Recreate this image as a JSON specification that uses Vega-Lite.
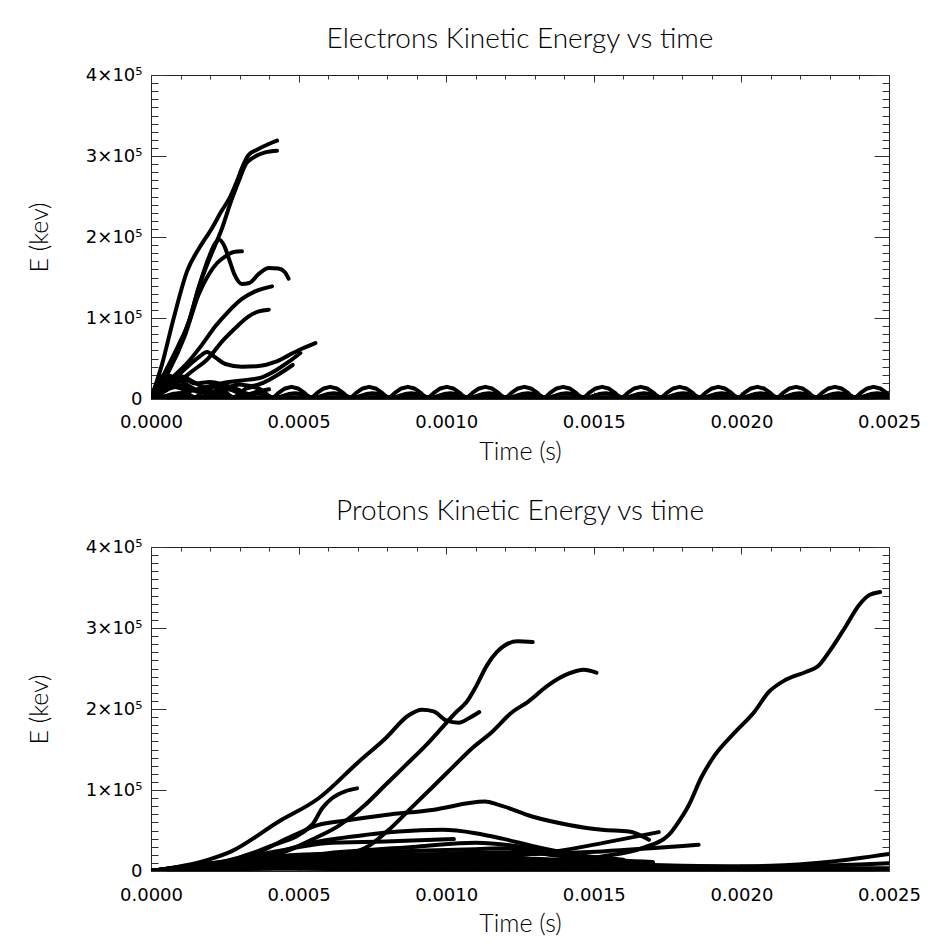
{
"$schema":"https://vega.github.io/schema/vega-lite/v6.json",
"background":"white",
"padding":{"left":26,"top":25,"right":10,"bottom":10},
"spacing":32,
"config":{
 "view":{"stroke":"#222","strokeWidth":1},
 "axis":{"labelFont":"DejaVu Sans","labelFontSize":18,"labelColor":"#000","titleFont":"Lato","titleFontWeight":300,"titleFontSize":25,"titleColor":"#000","tickColor":"#333","tickWidth":1,"grid":false,"domain":false,"labelOverlap":false},
 "title":{"font":"Lato","fontWeight":300,"fontSize":28,"color":"#000","offset":12,"anchor":"middle","frame":"group"}
},
"datasets":{
"electrons":[
{"id":"e1","t":0,"E":0},{"id":"e1","t":0.000037,"E":42400},{"id":"e1","t":0.000077,"E":100000},{"id":"e1","t":0.000122,"E":157600},{"id":"e1","t":0.000167,"E":188500},{"id":"e1","t":0.000207,"E":211100},{"id":"e1","t":0.000235,"E":229600},{"id":"e1","t":0.000269,"E":250200},{"id":"e1","t":0.000291,"E":268700},{"id":"e1","t":0.000308,"E":285200},{"id":"e1","t":0.000331,"E":301600},{"id":"e1","t":0.000359,"E":307800},{"id":"e1","t":0.000399,"E":314800},{"id":"e1","t":0.000427,"E":318900},
{"id":"e2","t":0,"E":0},{"id":"e2","t":0.000049,"E":34200},{"id":"e2","t":0.000094,"E":67100},{"id":"e2","t":0.000133,"E":100000},{"id":"e2","t":0.000161,"E":137000},{"id":"e2","t":0.00019,"E":165800},{"id":"e2","t":0.000218,"E":190500},{"id":"e2","t":0.000241,"E":211100},{"id":"e2","t":0.000269,"E":241900},{"id":"e2","t":0.000297,"E":268700},{"id":"e2","t":0.00032,"E":289300},{"id":"e2","t":0.000348,"E":298400},{"id":"e2","t":0.000387,"E":304500},{"id":"e2","t":0.000427,"E":306600},
{"id":"e3","t":0,"E":0},{"id":"e3","t":0.000049,"E":30000},{"id":"e3","t":0.000094,"E":63000},{"id":"e3","t":0.000128,"E":95800},{"id":"e3","t":0.000161,"E":137000},{"id":"e3","t":0.000195,"E":174100},{"id":"e3","t":0.000218,"E":192600},{"id":"e3","t":0.000231,"E":196700},{"id":"e3","t":0.000249,"E":188500},{"id":"e3","t":0.000265,"E":172000},{"id":"e3","t":0.000283,"E":153500},{"id":"e3","t":0.000308,"E":142000},{"id":"e3","t":0.000333,"E":143200},{"id":"e3","t":0.000365,"E":154400},{"id":"e3","t":0.000399,"E":161800},{"id":"e3","t":0.000432,"E":161000},{"id":"e3","t":0.000453,"E":156800},{"id":"e3","t":0.000466,"E":148600},
{"id":"e4","t":0,"E":0},{"id":"e4","t":0.00006,"E":34200},{"id":"e4","t":0.000116,"E":79400},{"id":"e4","t":0.000161,"E":128800},{"id":"e4","t":0.000195,"E":153500},{"id":"e4","t":0.000224,"E":167900},{"id":"e4","t":0.000252,"E":176100},{"id":"e4","t":0.00028,"E":181500},{"id":"e4","t":0.000308,"E":182300},
{"id":"e5","t":0,"E":0},{"id":"e5","t":0.000071,"E":25900},{"id":"e5","t":0.000128,"E":46500},{"id":"e5","t":0.000173,"E":67100},{"id":"e5","t":0.000218,"E":89700},{"id":"e5","t":0.000263,"E":108200},{"id":"e5","t":0.000308,"E":123500},{"id":"e5","t":0.000353,"E":132900},{"id":"e5","t":0.00041,"E":139100},
{"id":"e6","t":0,"E":0},{"id":"e6","t":0.000082,"E":17700},{"id":"e6","t":0.000139,"E":34200},{"id":"e6","t":0.000195,"E":50600},{"id":"e6","t":0.000241,"E":71200},{"id":"e6","t":0.000286,"E":87700},{"id":"e6","t":0.000331,"E":102100},{"id":"e6","t":0.000365,"E":108200},{"id":"e6","t":0.000399,"E":110300},
{"id":"e7","t":0,"E":0},{"id":"e7","t":0.00006,"E":17700},{"id":"e7","t":0.000116,"E":37400},{"id":"e7","t":0.000161,"E":51400},{"id":"e7","t":0.00019,"E":58000},{"id":"e7","t":0.000218,"E":51400},{"id":"e7","t":0.000252,"E":43200},{"id":"e7","t":0.000308,"E":39900},{"id":"e7","t":0.000365,"E":40700},{"id":"e7","t":0.000421,"E":45700},{"id":"e7","t":0.000466,"E":53900},{"id":"e7","t":0.000511,"E":62100},{"id":"e7","t":0.000557,"E":69100},
{"id":"e8","t":0,"E":0},{"id":"e8","t":0.000105,"E":7400},{"id":"e8","t":0.000195,"E":15600},{"id":"e8","t":0.000263,"E":21000},{"id":"e8","t":0.000331,"E":23900},{"id":"e8","t":0.000376,"E":26700},{"id":"e8","t":0.000421,"E":35000},{"id":"e8","t":0.000466,"E":45700},{"id":"e8","t":0.000506,"E":56800},
{"id":"e9","t":0,"E":0},{"id":"e9","t":0.00005,"E":12000},{"id":"e9","t":0.0001,"E":15000},{"id":"e9","t":0.00015,"E":11000},{"id":"e9","t":0.0002,"E":9000},{"id":"e9","t":0.00025,"E":13000},{"id":"e9","t":0.0003,"E":18000},{"id":"e9","t":0.00034,"E":16000},{"id":"e9","t":0.00038,"E":20000},{"id":"e9","t":0.00043,"E":30000},{"id":"e9","t":0.00048,"E":42000},
{"id":"e10","t":0,"E":0},{"id":"e10","t":0.00003,"E":15000},{"id":"e10","t":0.00006,"E":25000},{"id":"e10","t":0.0001,"E":28000},{"id":"e10","t":0.00014,"E":22000},{"id":"e10","t":0.00018,"E":14000},{"id":"e10","t":0.00022,"E":8000},{"id":"e10","t":0.00026,"E":12000},{"id":"e10","t":0.0003,"E":9000},{"id":"e10","t":0.00035,"E":4000},
{"id":"e11","t":0,"E":0},{"id":"e11","t":0.00004,"E":10000},{"id":"e11","t":0.00008,"E":18000},{"id":"e11","t":0.00012,"E":15000},{"id":"e11","t":0.00016,"E":9000},{"id":"e11","t":0.0002,"E":14000},{"id":"e11","t":0.00024,"E":16000},{"id":"e11","t":0.00028,"E":10000},{"id":"e11","t":0.00032,"E":5000},{"id":"e11","t":0.00036,"E":9000},{"id":"e11","t":0.0004,"E":12000},
{"id":"e13","t":0,"E":0},{"id":"e13","t":0.00002,"E":20000},{"id":"e13","t":0.00005,"E":30000},{"id":"e13","t":0.00008,"E":26000},{"id":"e13","t":0.00012,"E":18000},{"id":"e13","t":0.00016,"E":10000},{"id":"e13","t":0.0002,"E":5000},{"id":"e13","t":0.00025,"E":2000},
{"id":"e14","t":0,"E":0},{"id":"e14","t":0.00003,"E":8000},{"id":"e14","t":0.00007,"E":20000},{"id":"e14","t":0.00011,"E":24000},{"id":"e14","t":0.00015,"E":19000},{"id":"e14","t":0.0002,"E":21000},{"id":"e14","t":0.00025,"E":17000},{"id":"e14","t":0.0003,"E":11000}
],
"electronArches":[
{"id":"a1","t":0.000015,"E":0},{"id":"a1","t":0.000037,"E":7500},{"id":"a1","t":0.000059,"E":13000},{"id":"a1","t":0.000081,"E":15000},{"id":"a1","t":0.000103,"E":13000},{"id":"a1","t":0.000125,"E":7500},
{"id":"a1","t":0.000147,"E":0},{"id":"a1","t":0.000169,"E":7500},{"id":"a1","t":0.000191,"E":13000},{"id":"a1","t":0.000213,"E":15000},{"id":"a1","t":0.000235,"E":13000},{"id":"a1","t":0.000257,"E":7500},
{"id":"a1","t":0.000278,"E":0},{"id":"a1","t":0.0003,"E":7500},{"id":"a1","t":0.000322,"E":13000},{"id":"a1","t":0.000344,"E":15000},{"id":"a1","t":0.000366,"E":13000},{"id":"a1","t":0.000388,"E":7500},
{"id":"a1","t":0.00041,"E":0},{"id":"a1","t":0.000432,"E":7500},{"id":"a1","t":0.000454,"E":13000},{"id":"a1","t":0.000476,"E":15000},{"id":"a1","t":0.000498,"E":13000},{"id":"a1","t":0.00052,"E":7500},
{"id":"a1","t":0.000541,"E":0},{"id":"a1","t":0.000563,"E":7500},{"id":"a1","t":0.000585,"E":13000},{"id":"a1","t":0.000607,"E":15000},{"id":"a1","t":0.000629,"E":13000},{"id":"a1","t":0.000651,"E":7500},
{"id":"a1","t":0.000673,"E":0},{"id":"a1","t":0.000695,"E":7500},{"id":"a1","t":0.000717,"E":13000},{"id":"a1","t":0.000739,"E":15000},{"id":"a1","t":0.000761,"E":13000},{"id":"a1","t":0.000783,"E":7500},
{"id":"a1","t":0.000804,"E":0},{"id":"a1","t":0.000826,"E":7500},{"id":"a1","t":0.000848,"E":13000},{"id":"a1","t":0.00087,"E":15000},{"id":"a1","t":0.000892,"E":13000},{"id":"a1","t":0.000914,"E":7500},
{"id":"a1","t":0.000936,"E":0},{"id":"a1","t":0.000958,"E":7500},{"id":"a1","t":0.00098,"E":13000},{"id":"a1","t":0.001002,"E":15000},{"id":"a1","t":0.001024,"E":13000},{"id":"a1","t":0.001046,"E":7500},
{"id":"a1","t":0.001067,"E":0},{"id":"a1","t":0.001089,"E":7500},{"id":"a1","t":0.001111,"E":13000},{"id":"a1","t":0.001133,"E":15000},{"id":"a1","t":0.001155,"E":13000},{"id":"a1","t":0.001177,"E":7500},
{"id":"a1","t":0.001199,"E":0},{"id":"a1","t":0.001221,"E":7500},{"id":"a1","t":0.001243,"E":13000},{"id":"a1","t":0.001265,"E":15000},{"id":"a1","t":0.001287,"E":13000},{"id":"a1","t":0.001309,"E":7500},
{"id":"a1","t":0.00133,"E":0},{"id":"a1","t":0.001352,"E":7500},{"id":"a1","t":0.001374,"E":13000},{"id":"a1","t":0.001396,"E":15000},{"id":"a1","t":0.001418,"E":13000},{"id":"a1","t":0.00144,"E":7500},
{"id":"a1","t":0.001462,"E":0},{"id":"a1","t":0.001484,"E":7500},{"id":"a1","t":0.001506,"E":13000},{"id":"a1","t":0.001528,"E":15000},{"id":"a1","t":0.00155,"E":13000},{"id":"a1","t":0.001572,"E":7500},
{"id":"a1","t":0.001593,"E":0},{"id":"a1","t":0.001615,"E":7500},{"id":"a1","t":0.001637,"E":13000},{"id":"a1","t":0.001659,"E":15000},{"id":"a1","t":0.001681,"E":13000},{"id":"a1","t":0.001703,"E":7500},
{"id":"a1","t":0.001725,"E":0},{"id":"a1","t":0.001747,"E":7500},{"id":"a1","t":0.001769,"E":13000},{"id":"a1","t":0.001791,"E":15000},{"id":"a1","t":0.001813,"E":13000},{"id":"a1","t":0.001835,"E":7500},
{"id":"a1","t":0.001856,"E":0},{"id":"a1","t":0.001878,"E":7500},{"id":"a1","t":0.0019,"E":13000},{"id":"a1","t":0.001922,"E":15000},{"id":"a1","t":0.001944,"E":13000},{"id":"a1","t":0.001966,"E":7500},
{"id":"a1","t":0.001988,"E":0},{"id":"a1","t":0.00201,"E":7500},{"id":"a1","t":0.002032,"E":13000},{"id":"a1","t":0.002054,"E":15000},{"id":"a1","t":0.002076,"E":13000},{"id":"a1","t":0.002098,"E":7500},
{"id":"a1","t":0.002119,"E":0},{"id":"a1","t":0.002141,"E":7500},{"id":"a1","t":0.002163,"E":13000},{"id":"a1","t":0.002185,"E":15000},{"id":"a1","t":0.002207,"E":13000},{"id":"a1","t":0.002229,"E":7500},
{"id":"a1","t":0.002251,"E":0},{"id":"a1","t":0.002273,"E":7500},{"id":"a1","t":0.002295,"E":13000},{"id":"a1","t":0.002317,"E":15000},{"id":"a1","t":0.002339,"E":13000},{"id":"a1","t":0.002361,"E":7500},
{"id":"a1","t":0.002382,"E":0},{"id":"a1","t":0.002404,"E":7500},{"id":"a1","t":0.002426,"E":13000},{"id":"a1","t":0.002448,"E":15000},{"id":"a1","t":0.00247,"E":13000},{"id":"a1","t":0.002492,"E":7500},{"id":"a1","t":0.0025,"E":4800},
{"id":"a2","t":0.000027,"E":0},{"id":"a2","t":0.000049,"E":3500},{"id":"a2","t":0.000071,"E":6100},{"id":"a2","t":0.000093,"E":7000},{"id":"a2","t":0.000115,"E":6100},{"id":"a2","t":0.000137,"E":3500},
{"id":"a2","t":0.000159,"E":0},{"id":"a2","t":0.000181,"E":3500},{"id":"a2","t":0.000203,"E":6100},{"id":"a2","t":0.000225,"E":7000},{"id":"a2","t":0.000247,"E":6100},{"id":"a2","t":0.000269,"E":3500},
{"id":"a2","t":0.00029,"E":0},{"id":"a2","t":0.000312,"E":3500},{"id":"a2","t":0.000334,"E":6100},{"id":"a2","t":0.000356,"E":7000},{"id":"a2","t":0.000378,"E":6100},{"id":"a2","t":0.0004,"E":3500},
{"id":"a2","t":0.000422,"E":0},{"id":"a2","t":0.000444,"E":3500},{"id":"a2","t":0.000466,"E":6100},{"id":"a2","t":0.000488,"E":7000},{"id":"a2","t":0.00051,"E":6100},{"id":"a2","t":0.000532,"E":3500},
{"id":"a2","t":0.000553,"E":0},{"id":"a2","t":0.000575,"E":3500},{"id":"a2","t":0.000597,"E":6100},{"id":"a2","t":0.000619,"E":7000},{"id":"a2","t":0.000641,"E":6100},{"id":"a2","t":0.000663,"E":3500},
{"id":"a2","t":0.000685,"E":0},{"id":"a2","t":0.000707,"E":3500},{"id":"a2","t":0.000729,"E":6100},{"id":"a2","t":0.000751,"E":7000},{"id":"a2","t":0.000773,"E":6100},{"id":"a2","t":0.000795,"E":3500},
{"id":"a2","t":0.000816,"E":0},{"id":"a2","t":0.000838,"E":3500},{"id":"a2","t":0.00086,"E":6100},{"id":"a2","t":0.000882,"E":7000},{"id":"a2","t":0.000904,"E":6100},{"id":"a2","t":0.000926,"E":3500},
{"id":"a2","t":0.000948,"E":0},{"id":"a2","t":0.00097,"E":3500},{"id":"a2","t":0.000992,"E":6100},{"id":"a2","t":0.001014,"E":7000},{"id":"a2","t":0.001036,"E":6100},{"id":"a2","t":0.001058,"E":3500},
{"id":"a2","t":0.001079,"E":0},{"id":"a2","t":0.001101,"E":3500},{"id":"a2","t":0.001123,"E":6100},{"id":"a2","t":0.001145,"E":7000},{"id":"a2","t":0.001167,"E":6100},{"id":"a2","t":0.001189,"E":3500},
{"id":"a2","t":0.001211,"E":0},{"id":"a2","t":0.001233,"E":3500},{"id":"a2","t":0.001255,"E":6100},{"id":"a2","t":0.001277,"E":7000},{"id":"a2","t":0.001299,"E":6100},{"id":"a2","t":0.001321,"E":3500},
{"id":"a2","t":0.001342,"E":0},{"id":"a2","t":0.001364,"E":3500},{"id":"a2","t":0.001386,"E":6100},{"id":"a2","t":0.001408,"E":7000},{"id":"a2","t":0.00143,"E":6100},{"id":"a2","t":0.001452,"E":3500},
{"id":"a2","t":0.001474,"E":0},{"id":"a2","t":0.001496,"E":3500},{"id":"a2","t":0.001518,"E":6100},{"id":"a2","t":0.00154,"E":7000},{"id":"a2","t":0.001562,"E":6100},{"id":"a2","t":0.001584,"E":3500},
{"id":"a2","t":0.001605,"E":0},{"id":"a2","t":0.001627,"E":3500},{"id":"a2","t":0.001649,"E":6100},{"id":"a2","t":0.001671,"E":7000},{"id":"a2","t":0.001693,"E":6100},{"id":"a2","t":0.001715,"E":3500},
{"id":"a2","t":0.001737,"E":0},{"id":"a2","t":0.001759,"E":3500},{"id":"a2","t":0.001781,"E":6100},{"id":"a2","t":0.001803,"E":7000},{"id":"a2","t":0.001825,"E":6100},{"id":"a2","t":0.001847,"E":3500},
{"id":"a2","t":0.001868,"E":0},{"id":"a2","t":0.00189,"E":3500},{"id":"a2","t":0.001912,"E":6100},{"id":"a2","t":0.001934,"E":7000},{"id":"a2","t":0.001956,"E":6100},{"id":"a2","t":0.001978,"E":3500},
{"id":"a2","t":0.002,"E":0},{"id":"a2","t":0.002022,"E":3500},{"id":"a2","t":0.002044,"E":6100},{"id":"a2","t":0.002066,"E":7000},{"id":"a2","t":0.002088,"E":6100},{"id":"a2","t":0.00211,"E":3500},
{"id":"a2","t":0.002131,"E":0},{"id":"a2","t":0.002153,"E":3500},{"id":"a2","t":0.002175,"E":6100},{"id":"a2","t":0.002197,"E":7000},{"id":"a2","t":0.002219,"E":6100},{"id":"a2","t":0.002241,"E":3500},
{"id":"a2","t":0.002263,"E":0},{"id":"a2","t":0.002285,"E":3500},{"id":"a2","t":0.002307,"E":6100},{"id":"a2","t":0.002329,"E":7000},{"id":"a2","t":0.002351,"E":6100},{"id":"a2","t":0.002373,"E":3500},
{"id":"a2","t":0.002394,"E":0},{"id":"a2","t":0.002416,"E":3500},{"id":"a2","t":0.002438,"E":6100},{"id":"a2","t":0.00246,"E":7000},{"id":"a2","t":0.002482,"E":6100},{"id":"a2","t":0.0025,"E":4000},
{"id":"b1","t":0,"E":2500},{"id":"b1","t":0.0005,"E":2200},{"id":"b1","t":0.001,"E":2600},{"id":"b1","t":0.0015,"E":2300},{"id":"b1","t":0.002,"E":2600},{"id":"b1","t":0.0025,"E":2400}
],
"protons":[
{"id":"p1","t":0,"E":0},{"id":"p1","t":0.0004,"E":3000},{"id":"p1","t":0.0008,"E":5000},{"id":"p1","t":0.0012,"E":8000},{"id":"p1","t":0.0014,"E":12000},{"id":"p1","t":0.001528,"E":18000},{"id":"p1","t":0.001664,"E":28300},{"id":"p1","t":0.001754,"E":44600},{"id":"p1","t":0.001788,"E":61100},{"id":"p1","t":0.00182,"E":80000},{"id":"p1","t":0.001865,"E":116000},{"id":"p1","t":0.00191,"E":143000},{"id":"p1","t":0.00198,"E":172000},{"id":"p1","t":0.002045,"E":197000},{"id":"p1","t":0.00209,"E":220000},{"id":"p1","t":0.00215,"E":236000},{"id":"p1","t":0.00222,"E":246000},{"id":"p1","t":0.00226,"E":253000},{"id":"p1","t":0.0023,"E":272000},{"id":"p1","t":0.00235,"E":300000},{"id":"p1","t":0.0024,"E":329000},{"id":"p1","t":0.00243,"E":340000},{"id":"p1","t":0.00247,"E":344500},
{"id":"p2","t":0,"E":0},{"id":"p2","t":0.000224,"E":7000},{"id":"p2","t":0.000362,"E":15200},{"id":"p2","t":0.000466,"E":25500},{"id":"p2","t":0.000552,"E":39900},{"id":"p2","t":0.000638,"E":56400},{"id":"p2","t":0.000724,"E":81100},{"id":"p2","t":0.000793,"E":105800},{"id":"p2","t":0.000862,"E":130400},{"id":"p2","t":0.000931,"E":155100},{"id":"p2","t":0.000983,"E":175700},{"id":"p2","t":0.001034,"E":196300},{"id":"p2","t":0.001069,"E":208600},{"id":"p2","t":0.001103,"E":229200},{"id":"p2","t":0.001138,"E":253900},{"id":"p2","t":0.001172,"E":270400},{"id":"p2","t":0.001241,"E":283500},{"id":"p2","t":0.001293,"E":282700},
{"id":"p3","t":0,"E":0},{"id":"p3","t":0.000224,"E":4100},{"id":"p3","t":0.000483,"E":9100},{"id":"p3","t":0.000655,"E":19300},{"id":"p3","t":0.000741,"E":31700},{"id":"p3","t":0.00081,"E":52300},{"id":"p3","t":0.000879,"E":77000},{"id":"p3","t":0.000948,"E":101600},{"id":"p3","t":0.001017,"E":126300},{"id":"p3","t":0.001086,"E":151000},{"id":"p3","t":0.001155,"E":171600},{"id":"p3","t":0.001224,"E":196300},{"id":"p3","t":0.001276,"E":208600},{"id":"p3","t":0.001345,"E":229200},{"id":"p3","t":0.001414,"E":243600},{"id":"p3","t":0.001466,"E":248500},{"id":"p3","t":0.001509,"E":244800},
{"id":"p4","t":0,"E":0},{"id":"p4","t":0.000195,"E":14000},{"id":"p4","t":0.000274,"E":24600},{"id":"p4","t":0.000433,"E":61100},{"id":"p4","t":0.000568,"E":89800},{"id":"p4","t":0.000704,"E":135000},{"id":"p4","t":0.000794,"E":163600},{"id":"p4","t":0.000873,"E":192300},{"id":"p4","t":0.000918,"E":199000},{"id":"p4","t":0.000957,"E":197100},{"id":"p4","t":0.001,"E":186000},{"id":"p4","t":0.001043,"E":183100},{"id":"p4","t":0.001078,"E":188900},{"id":"p4","t":0.001112,"E":196300},
{"id":"p5","t":0,"E":0},{"id":"p5","t":0.00022,"E":9000},{"id":"p5","t":0.0004,"E":30000},{"id":"p5","t":0.000545,"E":56800},{"id":"p5","t":0.00058,"E":77500},{"id":"p5","t":0.000613,"E":89800},{"id":"p5","t":0.000658,"E":98400},{"id":"p5","t":0.000698,"E":102000},
{"id":"p6","t":0,"E":0},{"id":"p6","t":0.00031,"E":15200},{"id":"p6","t":0.000483,"E":44000},{"id":"p6","t":0.000568,"E":56900},{"id":"p6","t":0.000655,"E":62000},{"id":"p6","t":0.000794,"E":69200},{"id":"p6","t":0.000952,"E":75400},{"id":"p6","t":0.001131,"E":85700},{"id":"p6","t":0.001178,"E":81600},{"id":"p6","t":0.001291,"E":67300},{"id":"p6","t":0.001416,"E":56900},{"id":"p6","t":0.001528,"E":50800},{"id":"p6","t":0.001619,"E":48800},{"id":"p6","t":0.001687,"E":38500},
{"id":"p7","t":0,"E":0},{"id":"p7","t":0.00031,"E":12000},{"id":"p7","t":0.000568,"E":36500},{"id":"p7","t":0.000726,"E":44600},{"id":"p7","t":0.000839,"E":48800},{"id":"p7","t":0.000986,"E":50800},{"id":"p7","t":0.001099,"E":46700},{"id":"p7","t":0.00119,"E":40000},{"id":"p7","t":0.001291,"E":31000},{"id":"p7","t":0.00138,"E":24000},{"id":"p7","t":0.00146,"E":19000},{"id":"p7","t":0.00155,"E":15000},
{"id":"p8","t":0,"E":0},{"id":"p8","t":0.00025,"E":12000},{"id":"p8","t":0.00045,"E":26000},{"id":"p8","t":0.00059,"E":34400},{"id":"p8","t":0.000794,"E":36500},{"id":"p8","t":0.001026,"E":39400},
{"id":"p9","t":0,"E":0},{"id":"p9","t":0.0003,"E":8000},{"id":"p9","t":0.0006,"E":12000},{"id":"p9","t":0.0009,"E":16000},{"id":"p9","t":0.001189,"E":20000},{"id":"p9","t":0.001528,"E":24200},{"id":"p9","t":0.001855,"E":32300},
{"id":"p10","t":0,"E":0},{"id":"p10","t":0.0003,"E":9000},{"id":"p10","t":0.0007,"E":12000},{"id":"p10","t":0.001,"E":15000},{"id":"p10","t":0.00118,"E":18000},{"id":"p10","t":0.00137,"E":24200},{"id":"p10","t":0.001528,"E":34400},{"id":"p10","t":0.00172,"E":48000},
{"id":"p11","t":0,"E":0},{"id":"p11","t":0.0003,"E":10000},{"id":"p11","t":0.0006,"E":22000},{"id":"p11","t":0.0009,"E":30000},{"id":"p11","t":0.0011,"E":35000},{"id":"p11","t":0.00125,"E":30000},{"id":"p11","t":0.0014,"E":18000},{"id":"p11","t":0.00155,"E":12000},{"id":"p11","t":0.0017,"E":9000},
{"id":"p12","t":0,"E":0},{"id":"p12","t":0.0005,"E":4000},{"id":"p12","t":0.001,"E":5000},{"id":"p12","t":0.0015,"E":4500},{"id":"p12","t":0.0019,"E":5500},{"id":"p12","t":0.0021,"E":6500},{"id":"p12","t":0.0023,"E":11500},{"id":"p12","t":0.0025,"E":21000},
{"id":"q1","t":0,"E":0},{"id":"q1","t":0.00023,"E":9000},{"id":"q1","t":0.0005,"E":11000},{"id":"q1","t":0.0008,"E":10000},{"id":"q1","t":0.0011,"E":9000},{"id":"q1","t":0.0014,"E":7000},{"id":"q1","t":0.0017,"E":4000},{"id":"q1","t":0.002,"E":2500},{"id":"q1","t":0.0025,"E":2500},
{"id":"q2","t":0,"E":0},{"id":"q2","t":0.00023,"E":8000},{"id":"q2","t":0.0005,"E":6000},{"id":"q2","t":0.0008,"E":5000},{"id":"q2","t":0.0012,"E":4000},{"id":"q2","t":0.0016,"E":2500},{"id":"q2","t":0.002,"E":1500},{"id":"q2","t":0.0025,"E":1500},
{"id":"q3","t":0,"E":0},{"id":"q3","t":0.00025,"E":7000},{"id":"q3","t":0.0004,"E":3000},{"id":"q3","t":0.0008,"E":2000},{"id":"q3","t":0.0015,"E":1500},{"id":"q3","t":0.0025,"E":800},
{"id":"q4","t":0,"E":0},{"id":"q4","t":0.0003,"E":12000},{"id":"q4","t":0.0006,"E":14000},{"id":"q4","t":0.0009,"E":13000},{"id":"q4","t":0.0012,"E":11000},{"id":"q4","t":0.0015,"E":8000},{"id":"q4","t":0.0018,"E":5000},{"id":"q4","t":0.0021,"E":3500},{"id":"q4","t":0.0025,"E":3500},
{"id":"q5","t":0,"E":0},{"id":"q5","t":0.0003,"E":10000},{"id":"q5","t":0.0008,"E":16000},{"id":"q5","t":0.0012,"E":15000},{"id":"q5","t":0.0014,"E":13000},{"id":"q5","t":0.0016,"E":9000},{"id":"q5","t":0.0018,"E":6500},{"id":"q5","t":0.002,"E":5500},{"id":"q5","t":0.0022,"E":6000},{"id":"q5","t":0.0024,"E":8000},{"id":"q5","t":0.0025,"E":9500},
{"id":"q6","t":0,"E":0},{"id":"q6","t":0.00025,"E":10000},{"id":"q6","t":0.0005,"E":20000},{"id":"q6","t":0.0007,"E":22000},{"id":"q6","t":0.0009,"E":25000},{"id":"q6","t":0.0011,"E":27000},{"id":"q6","t":0.0012,"E":28000},{"id":"q6","t":0.00135,"E":20000},{"id":"q6","t":0.0015,"E":15000},{"id":"q6","t":0.0017,"E":11000},
{"id":"q7","t":0,"E":0},{"id":"q7","t":0.00025,"E":11000},{"id":"q7","t":0.0005,"E":18000},{"id":"q7","t":0.0008,"E":21000},{"id":"q7","t":0.0011,"E":19000},{"id":"q7","t":0.0013,"E":15000},{"id":"q7","t":0.0015,"E":12000},{"id":"q7","t":0.0017,"E":10000},
{"id":"q8","t":0,"E":0},{"id":"q8","t":0.00022,"E":9500},{"id":"q8","t":0.0004,"E":15000},{"id":"q8","t":0.0007,"E":17000},{"id":"q8","t":0.001,"E":14000},{"id":"q8","t":0.0013,"E":10000},{"id":"q8","t":0.0016,"E":6000},{"id":"q8","t":0.0019,"E":4000},
{"id":"q9","t":0,"E":0},{"id":"q9","t":0.0002,"E":8000},{"id":"q9","t":0.0005,"E":13000},{"id":"q9","t":0.0009,"E":20000},{"id":"q9","t":0.0012,"E":23000},{"id":"q9","t":0.0014,"E":20000},{"id":"q9","t":0.0016,"E":14000},
{"id":"q10","t":0,"E":0},{"id":"q10","t":0.0003,"E":6000},{"id":"q10","t":0.0006,"E":9000},{"id":"q10","t":0.001,"E":7000},{"id":"q10","t":0.0014,"E":5000},{"id":"q10","t":0.0018,"E":3000},{"id":"q10","t":0.0025,"E":2000}
]
},
"vconcat":[
{
 "width":738,"height":324,
 "title":{"text":"Electrons Kinetic Energy vs time"},
 "data":{"name":"electrons"},
 "resolve":{"axis":{"x":"independent","y":"independent"}},
 "layer":[
  {"mark":{"type":"line","interpolate":"monotone","color":"#000","strokeWidth":4,"strokeCap":"round","strokeJoin":"round","clip":true},
   "encoding":{
    "x":{"field":"t","type":"quantitative","scale":{"domain":[0,0.0025],"nice":false,"zero":false},"axis":{"orient":"bottom","values":[0,0.0005,0.001,0.0015,0.002,0.0025],"format":".4f","ticks":false,"labelFlush":false,"labelPadding":14,"title":"Time (s)","titlePadding":8}},
    "y":{"field":"E","type":"quantitative","scale":{"domain":[0,400000],"nice":false},"axis":{"orient":"left","values":[0,100000,200000,300000,400000],"labelExpr":"datum.value === 0 ? '0' : format(datum.value/100000,'d') + '×10⁵'","ticks":false,"labelPadding":9,"title":"E (kev)","titlePadding":33}},
    "detail":{"field":"id"}}},
  {"data":{"name":"electronArches"},
   "mark":{"type":"line","interpolate":"linear","color":"#000","strokeWidth":4,"strokeCap":"round","strokeJoin":"round","clip":true},
   "encoding":{
    "x":{"field":"t","type":"quantitative","scale":{"domain":[0,0.0025],"nice":false,"zero":false},"axis":null},
    "y":{"field":"E","type":"quantitative","scale":{"domain":[0,400000],"nice":false},"axis":null},
    "detail":{"field":"id"}}},
  {"mark":{"type":"point","opacity":0},
   "encoding":{
    "x":{"field":"t","type":"quantitative","axis":{"orient":"bottom","values":[0,0.0005,0.001,0.0015,0.002,0.0025],"labels":false,"tickSize":-7,"title":null}},
    "y":{"field":"E","type":"quantitative","axis":{"orient":"left","values":[0,100000,200000,300000,400000],"labels":false,"tickSize":-15,"title":null}}}},
  {"mark":{"type":"point","opacity":0},
   "encoding":{
    "x":{"field":"t","type":"quantitative","axis":{"orient":"bottom","values":[0,0.0001,0.0002,0.0003,0.0004,0.0005,0.0006,0.0007,0.0008,0.0009,0.001,0.0011,0.0012,0.0013,0.0014,0.0015,0.0016,0.0017,0.0018,0.0019,0.002,0.0021,0.0022,0.0023,0.0024,0.0025],"labels":false,"tickSize":-4,"title":null}},
    "y":{"field":"E","type":"quantitative","axis":{"orient":"left","values":[0,10000,20000,30000,40000,50000,60000,70000,80000,90000,100000,110000,120000,130000,140000,150000,160000,170000,180000,190000,200000,210000,220000,230000,240000,250000,260000,270000,280000,290000,300000,310000,320000,330000,340000,350000,360000,370000,380000,390000,400000],"labels":false,"tickSize":-7,"title":null}}}},
  {"mark":{"type":"point","opacity":0},
   "encoding":{
    "x":{"field":"t","type":"quantitative","axis":{"orient":"top","values":[0,0.0005,0.001,0.0015,0.002,0.0025],"labels":false,"tickSize":-7,"title":null}},
    "y":{"field":"E","type":"quantitative","axis":{"orient":"right","values":[0,100000,200000,300000,400000],"labels":false,"tickSize":-15,"title":null}}}},
  {"mark":{"type":"point","opacity":0},
   "encoding":{
    "x":{"field":"t","type":"quantitative","axis":{"orient":"top","values":[0,0.0001,0.0002,0.0003,0.0004,0.0005,0.0006,0.0007,0.0008,0.0009,0.001,0.0011,0.0012,0.0013,0.0014,0.0015,0.0016,0.0017,0.0018,0.0019,0.002,0.0021,0.0022,0.0023,0.0024,0.0025],"labels":false,"tickSize":-4,"title":null}},
    "y":{"field":"E","type":"quantitative","axis":{"orient":"right","values":[0,10000,20000,30000,40000,50000,60000,70000,80000,90000,100000,110000,120000,130000,140000,150000,160000,170000,180000,190000,200000,210000,220000,230000,240000,250000,260000,270000,280000,290000,300000,310000,320000,330000,340000,350000,360000,370000,380000,390000,400000],"labels":false,"tickSize":-7,"title":null}}}}
 ]
},
{
 "width":738,"height":324,
 "title":{"text":"Protons Kinetic Energy vs time"},
 "data":{"name":"protons"},
 "resolve":{"axis":{"x":"independent","y":"independent"}},
 "layer":[
  {"mark":{"type":"line","interpolate":"monotone","color":"#000","strokeWidth":4,"strokeCap":"round","strokeJoin":"round","clip":true},
   "encoding":{
    "x":{"field":"t","type":"quantitative","scale":{"domain":[0,0.0025],"nice":false,"zero":false},"axis":{"orient":"bottom","values":[0,0.0005,0.001,0.0015,0.002,0.0025],"format":".4f","ticks":false,"labelFlush":false,"labelPadding":15,"title":"Time (s)","titlePadding":7}},
    "y":{"field":"E","type":"quantitative","scale":{"domain":[0,400000],"nice":false},"axis":{"orient":"left","values":[0,100000,200000,300000,400000],"labelExpr":"datum.value === 0 ? '0' : format(datum.value/100000,'d') + '×10⁵'","ticks":false,"labelPadding":9,"title":"E (kev)","titlePadding":33}},
    "detail":{"field":"id"}}},
  {"mark":{"type":"point","opacity":0},
   "encoding":{
    "x":{"field":"t","type":"quantitative","axis":{"orient":"bottom","values":[0,0.0005,0.001,0.0015,0.002,0.0025],"labels":false,"tickSize":-7,"title":null}},
    "y":{"field":"E","type":"quantitative","axis":{"orient":"left","values":[0,100000,200000,300000,400000],"labels":false,"tickSize":-15,"title":null}}}},
  {"mark":{"type":"point","opacity":0},
   "encoding":{
    "x":{"field":"t","type":"quantitative","axis":{"orient":"bottom","values":[0,0.0001,0.0002,0.0003,0.0004,0.0005,0.0006,0.0007,0.0008,0.0009,0.001,0.0011,0.0012,0.0013,0.0014,0.0015,0.0016,0.0017,0.0018,0.0019,0.002,0.0021,0.0022,0.0023,0.0024,0.0025],"labels":false,"tickSize":-4,"title":null}},
    "y":{"field":"E","type":"quantitative","axis":{"orient":"left","values":[0,10000,20000,30000,40000,50000,60000,70000,80000,90000,100000,110000,120000,130000,140000,150000,160000,170000,180000,190000,200000,210000,220000,230000,240000,250000,260000,270000,280000,290000,300000,310000,320000,330000,340000,350000,360000,370000,380000,390000,400000],"labels":false,"tickSize":-7,"title":null}}}},
  {"mark":{"type":"point","opacity":0},
   "encoding":{
    "x":{"field":"t","type":"quantitative","axis":{"orient":"top","values":[0,0.0005,0.001,0.0015,0.002,0.0025],"labels":false,"tickSize":-7,"title":null}},
    "y":{"field":"E","type":"quantitative","axis":{"orient":"right","values":[0,100000,200000,300000,400000],"labels":false,"tickSize":-15,"title":null}}}},
  {"mark":{"type":"point","opacity":0},
   "encoding":{
    "x":{"field":"t","type":"quantitative","axis":{"orient":"top","values":[0,0.0001,0.0002,0.0003,0.0004,0.0005,0.0006,0.0007,0.0008,0.0009,0.001,0.0011,0.0012,0.0013,0.0014,0.0015,0.0016,0.0017,0.0018,0.0019,0.002,0.0021,0.0022,0.0023,0.0024,0.0025],"labels":false,"tickSize":-4,"title":null}},
    "y":{"field":"E","type":"quantitative","axis":{"orient":"right","values":[0,10000,20000,30000,40000,50000,60000,70000,80000,90000,100000,110000,120000,130000,140000,150000,160000,170000,180000,190000,200000,210000,220000,230000,240000,250000,260000,270000,280000,290000,300000,310000,320000,330000,340000,350000,360000,370000,380000,390000,400000],"labels":false,"tickSize":-7,"title":null}}}}
 ]
}
]
}
